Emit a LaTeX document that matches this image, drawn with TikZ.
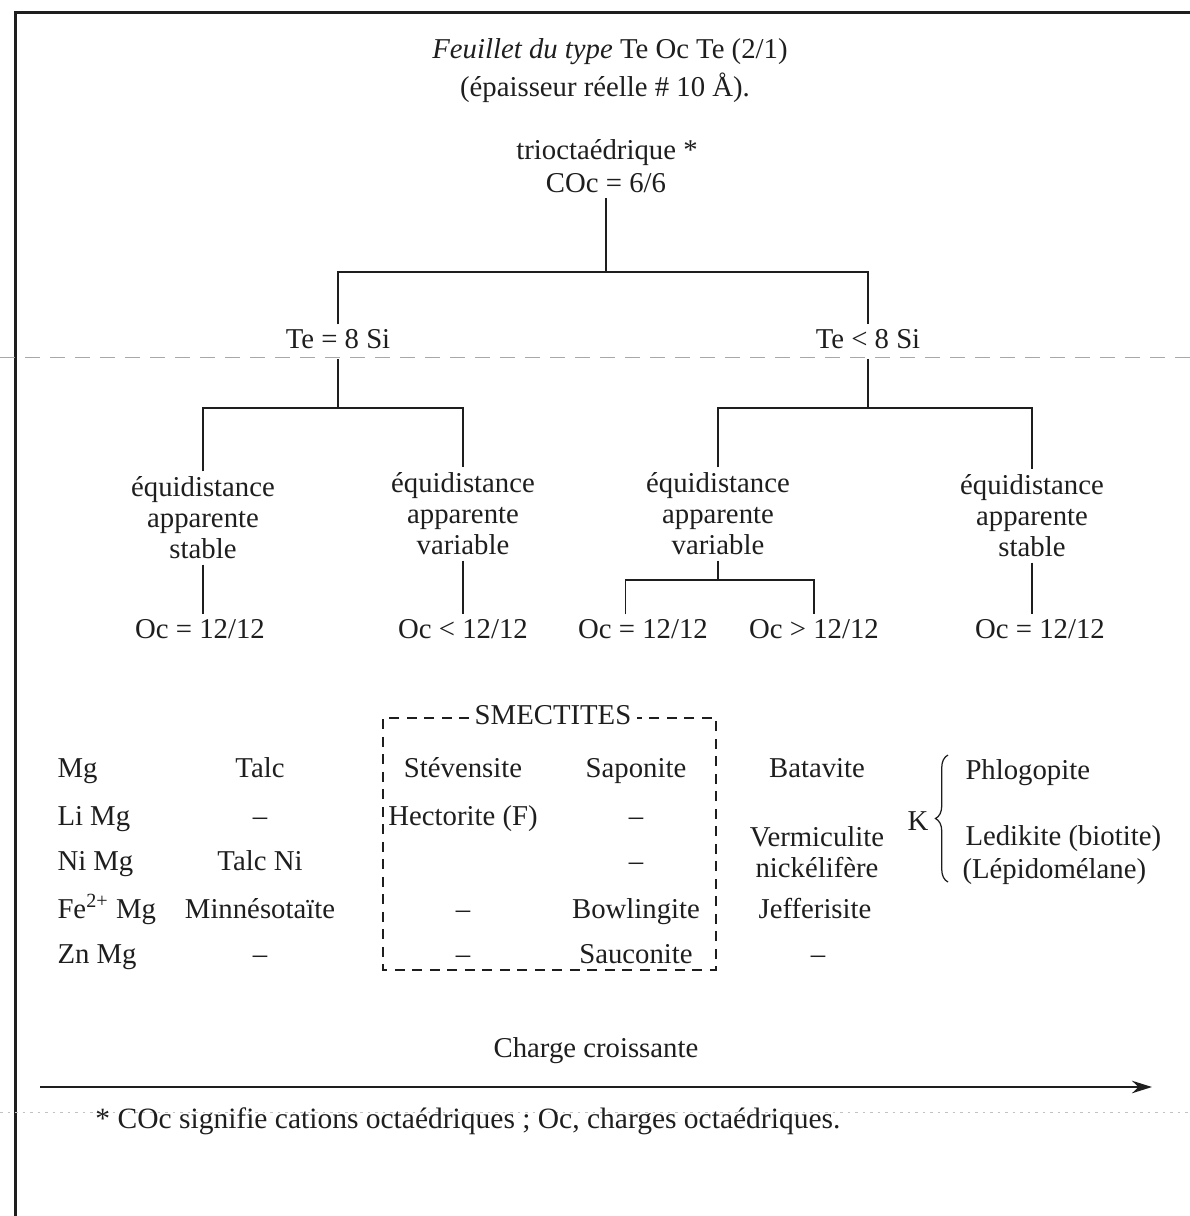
\documentclass[tikz,border=0pt]{standalone}
\usepackage{fontspec}
\setmainfont{Liberation Serif}
\usepackage{tikz}
\usetikzlibrary{arrows.meta,positioning,decorations.pathreplacing}
\usepackage{xcolor}
\definecolor{Ink}{HTML}{1E1E1E}
\definecolor{ScanGray}{HTML}{A8A8A8}

\begin{document}
\begin{tikzpicture}[x=0.4pt,y=-0.4pt,>=Stealth,
  every node/.style={font=\fontsize{11.5}{12.4}\selectfont,align=center,text=Ink,inner sep=2pt},
  cell/.style={text height=1.6ex,text depth=0.45ex,yshift=-1.4pt},
  tree/.style={draw=Ink,line width=0.6pt},
  boxline/.style={draw=Ink,line width=0.5pt,dash pattern=on 4pt off 3pt}]
  \useasboundingbox (0,0) rectangle (1190,1216);
  % frame and scan marks
  \draw[Ink,line width=1.2pt] (15,1216) -- (15,12) -- (1190,12);
  \draw[ScanGray,line width=0.4pt,dash pattern=on 6pt off 4pt] (0,357) -- (1190,357);
  \draw[ScanGray!70,line width=0.3pt,dash pattern=on 1pt off 2pt] (0,1112) -- (1190,1112);
  % title
  \node (title) at (610,52) {\textit{Feuillet du type} Te Oc Te (2/1)};
  \node (thick) at (605,88) {(épaisseur réelle \# 10 Å).};
  \node (trio) at (607,153) {trioctaédrique *};
  \node (coc) at (606,183) {COc = 6/6};
  % first split
  \coordinate (bus1) at (606,272);
  \node[cell] (te8) at (338,338) {Te = 8 Si};
  \node[cell] (telt) at (868,338) {Te < 8 Si};
  \draw[tree] (coc.south) -- (bus1);
  \draw[tree] (te8.north) |- (bus1) -| (telt.north);
  % second split
  \coordinate (bus2) at (338,408);
  \coordinate (bus3) at (868,408);
  \node (eqA) at (203,518) {équidistance\\apparente\\stable};
  \node (eqB) at (463,514) {équidistance\\apparente\\variable};
  \node (eqC) at (718,514) {équidistance\\apparente\\variable};
  \node (eqD) at (1032,516) {équidistance\\apparente\\stable};
  \draw[tree] (te8.south) -- (bus2);
  \draw[tree] (eqA.north) |- (bus2) -| (eqB.north);
  \draw[tree] (telt.south) -- (bus3);
  \draw[tree] (eqC.north) |- (bus3) -| (eqD.north);
  % octahedral charges
  \node[cell] (ocA) at (200,628) {Oc = 12/12};
  \node[cell] (ocB) at (463,628) {Oc < 12/12};
  \node[cell] (ocC) at (643,628) {Oc = 12/12};
  \node[cell] (ocD) at (814,628) {Oc > 12/12};
  \node[cell] (ocE) at (1040,628) {Oc = 12/12};
  \draw[tree] (eqA.south) -- (ocA.north -| eqA.south);
  \draw[tree] (eqB.south) -- (ocB.north);
  \draw[tree] (eqD.south) -- (ocE.north -| eqD.south);
  \coordinate (bus4) at (718,580);
  \draw[tree] (eqC.south) -- (bus4);
  \draw[tree] ([xshift=-7pt]ocC.north) |- (bus4) -| (ocD.north);
  % smectites box
  \node[cell,yshift=1.4pt] (smect) at (553,718) {SMECTITES};
  \coordinate (boxNW) at (383,718);
  \coordinate (boxSE) at (716,970);
  \draw[boxline] (smect.west) -- (boxNW) |- (boxSE) |- (smect.east);
  % table rows
  \foreach \i/\y/\cat/\tal/\ste/\sap in {1/767/Mg/Talc/Stévensite/Saponite,
      2/815/Li Mg/--/Hectorite (F)/--,
      3/860/Ni Mg/Talc Ni//--,
      4/908/Fe\textsuperscript{2+} Mg/Minnésotaïte/--/Bowlingite,
      5/953/Zn Mg/--/--/Sauconite}{
    \node[cell,anchor=west] (cat\i) at (52,\y) {\cat};
    \node[cell] (tal\i) at (260,\y) {\tal};
    \node[cell] (ste\i) at (463,\y) {\ste};
    \node[cell] (sap\i) at (636,\y) {\sap};
  }
  \node[cell] (bata) at (817,767) {Batavite};
  \node (verm) at (817,852) {Vermiculite\\nickélifère};
  \node[cell] (jeff) at (815,908) {Jefferisite};
  \node[cell] (vermZn) at (818,953) {--};
  % micas
  \node[cell] (kali) at (918,820) {K};
  \coordinate (braceB) at (948,882);
  \coordinate (braceT) at (948,755);
  \draw[Ink,line width=0.5pt,decorate,decoration={brace,amplitude=5pt}] (braceB) -- (braceT);
  \node[cell,anchor=west] (phlo) at (960,769) {Phlogopite};
  \node[cell,anchor=west] (ledi) at (960,835) {Ledikite (biotite)};
  \node[cell,anchor=west] (lepi) at (957,868) {(Lépidomélane)};
  % charge axis
  \node[cell] (charge) at (596,1047) {Charge croissante};
  \coordinate (axisL) at (40,1087);
  \coordinate (axisR) at (1152,1087);
  \draw[Ink,line width=0.9pt,-{Stealth[length=8pt,width=5pt]}] (axisL) -- (axisR);
  \node[cell,anchor=west,font=\fontsize{11.8}{13}\selectfont] (note) at (90,1118)
    {* COc signifie cations octaédriques ; Oc, charges octaédriques.};
\end{tikzpicture}
\end{document}
